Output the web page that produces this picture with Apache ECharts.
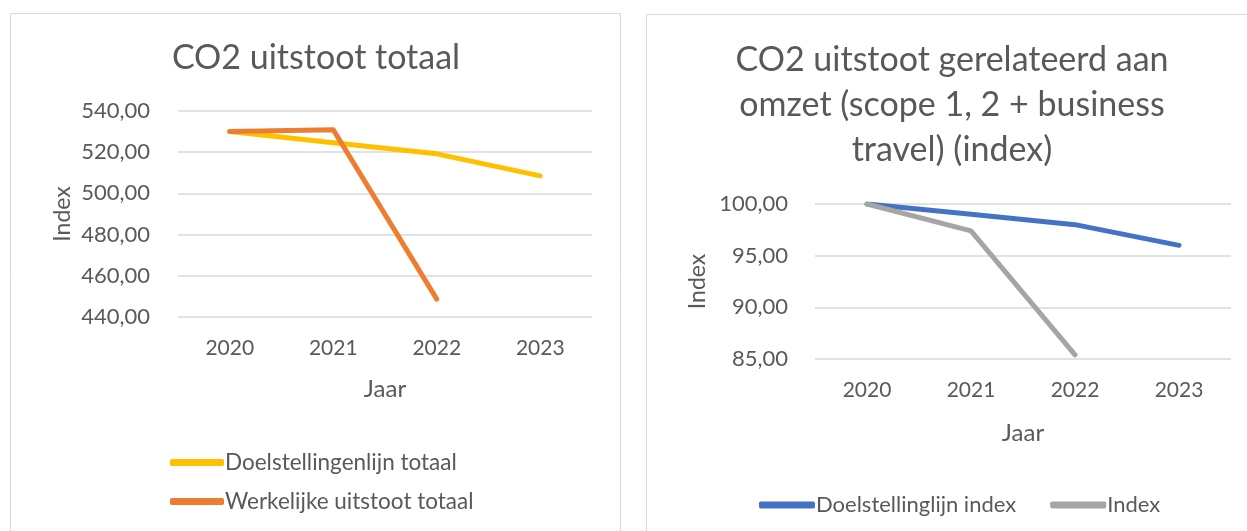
<!DOCTYPE html>
<html>
<head>
<meta charset="utf-8">
<script src="https://cdn.jsdelivr.net/npm/echarts@6/dist/echarts.min.js"></script>
<style>
html,body{margin:0;padding:0;background:#fff;}
#c{width:1247px;height:531px;}
</style>
</head>
<body>
<div id="c"></div>
<script>
var years = ['2020', '2021', '2022', '2023'];
var doelTotaal = [530.0, 524.6, 519.2, 508.5];
var werkelijkTotaal = [530.0, 530.9, 448.7, null];
var doelIndex = [100.0, 99.0, 98.0, 96.0];
var indexWaarden = [100.0, 97.4, 85.4, null];

var FONT = 'Lato';
var TXT = '#595959';
function fmt(v){ return v.toFixed(2).replace('.', ','); }

var chart = echarts.init(document.getElementById('c'), null, {renderer:'canvas'});
chart.setOption({
  animation: false,
  textStyle: {fontFamily: FONT, color: TXT},
  graphic: [
    {type:'rect', shape:{x:10.5, y:13.5, width:610, height:530}, style:{fill:'none', stroke:'#d9d9d9', lineWidth:1}},
    {type:'rect', shape:{x:646.5, y:14.5, width:610, height:530}, style:{fill:'none', stroke:'#d9d9d9', lineWidth:1}}
  ],
  title: [
    {text:'CO2 uitstoot totaal', left:311, top:36, textAlign:'center',
     textStyle:{fontFamily:FONT, fontSize:34, fontWeight:'normal', color:TXT}},
    {text:'CO2 uitstoot gerelateerd aan\nomzet (scope 1, 2 + business\ntravel) (index)', left:947, top:33, textAlign:'center',
     textStyle:{fontFamily:FONT, fontSize:34, fontWeight:'normal', color:TXT, lineHeight:45}}
  ],
  legend: [
    {orient:'vertical', left:165, top:446, itemWidth:54, itemHeight:7, itemGap:16, icon:'roundRect',
     data:['Doelstellingenlijn totaal','Werkelijke uitstoot totaal'],
     textStyle:{fontFamily:FONT, fontSize:22.5, color:TXT, padding:[0,0,0,-4]}},
    {orient:'horizontal', left:754, top:489, itemWidth:56, itemHeight:7, itemGap:34, icon:'roundRect',
     data:['Doelstellinglijn index','Index'],
     textStyle:{fontFamily:FONT, fontSize:22, color:TXT, padding:[0,0,0,-4]}}
  ],
  grid: [
    {left:178, top:111, width:414, height:206, containLabel:false},
    {left:815, top:204, width:416, height:155, containLabel:false}
  ],
  xAxis: [
    {type:'category', gridIndex:0, data:years, boundaryGap:true,
     axisLine:{show:false}, axisTick:{show:false},
     axisLabel:{fontFamily:FONT, fontSize:21, color:TXT, margin:21},
     name:'Jaar', nameLocation:'middle', nameGap:60, nameTextStyle:{fontFamily:FONT, fontSize:24, color:TXT}},
    {type:'category', gridIndex:1, data:years, boundaryGap:true,
     axisLine:{show:false}, axisTick:{show:false},
     axisLabel:{fontFamily:FONT, fontSize:21, color:TXT, margin:21},
     name:'Jaar', nameLocation:'middle', nameGap:62, nameTextStyle:{fontFamily:FONT, fontSize:24, color:TXT}}
  ],
  yAxis: [
    {type:'value', gridIndex:0, min:440, max:540, interval:20,
     axisLine:{show:false}, axisTick:{show:false},
     splitLine:{lineStyle:{color:'#d9d9d9', width:1.5}},
     axisLabel:{fontFamily:FONT, fontSize:22, color:TXT, margin:28, formatter:fmt},
     name:'Index', nameLocation:'middle', nameRotate:90, nameGap:104, nameTextStyle:{fontFamily:FONT, fontSize:23, color:TXT}},
    {type:'value', gridIndex:1, min:85, max:100, interval:5,
     axisLine:{show:false}, axisTick:{show:false},
     splitLine:{lineStyle:{color:'#d9d9d9', width:1.5}},
     axisLabel:{fontFamily:FONT, fontSize:22, color:TXT, margin:27, formatter:fmt},
     name:'Index', nameLocation:'middle', nameRotate:90, nameGap:106, nameTextStyle:{fontFamily:FONT, fontSize:23, color:TXT}}
  ],
  series: [
    {name:'Doelstellingenlijn totaal', type:'line', xAxisIndex:0, yAxisIndex:0, data:doelTotaal,
     showSymbol:false, itemStyle:{color:'#FFC000'}, lineStyle:{color:'#FFC000', width:5, cap:'round', join:'round'}},
    {name:'Werkelijke uitstoot totaal', type:'line', xAxisIndex:0, yAxisIndex:0, data:werkelijkTotaal,
     showSymbol:false, itemStyle:{color:'#ED7D31'}, lineStyle:{color:'#ED7D31', width:5, cap:'round', join:'round'}},
    {name:'Doelstellinglijn index', type:'line', xAxisIndex:1, yAxisIndex:1, data:doelIndex,
     showSymbol:false, itemStyle:{color:'#4472C4'}, lineStyle:{color:'#4472C4', width:5, cap:'round', join:'round'}},
    {name:'Index', type:'line', xAxisIndex:1, yAxisIndex:1, data:indexWaarden,
     showSymbol:false, itemStyle:{color:'#A5A5A5'}, lineStyle:{color:'#A5A5A5', width:5, cap:'round', join:'round'}}
  ]
});
</script>
</body>
</html>
